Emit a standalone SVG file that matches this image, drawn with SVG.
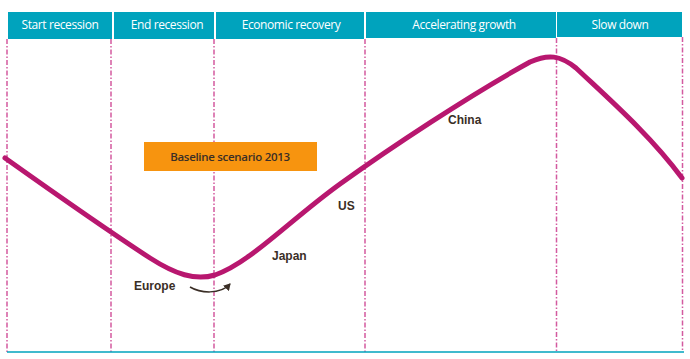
<svg xmlns="http://www.w3.org/2000/svg" width="690" height="359" viewBox="0 0 690 359">
<style>
.hdr{fill:#00a3bd}
.ht{font-family:"Open Sans","Noto Sans",sans-serif;font-size:12px;fill:#ffffff;text-anchor:middle;letter-spacing:-0.4px}
.vl{stroke:#d35a9f;stroke-width:1.5;stroke-dasharray:5,2,1.5,2;fill:none}
.lbl{font-family:"Liberation Sans",Arial,sans-serif;font-size:12px;font-weight:bold;fill:#3a2e26}
</style>
<defs>
<marker id="ah" markerWidth="8" markerHeight="8" refX="6" refY="4" orient="auto" markerUnits="userSpaceOnUse">
<path d="M0,0 L7,4 L0,8 Z" fill="#3a2e26"/>
</marker>
</defs>
<rect width="690" height="359" fill="#ffffff"/>
<g id="phases">
<g id="start-recession"><rect class="hdr" x="8" y="12" width="104" height="27"/><text class="ht" x="60" y="29">Start recession</text></g>
<g id="end-recession"><rect class="hdr" x="114" y="12" width="100" height="27"/><text class="ht" x="167" y="29">End recession</text></g>
<g id="economic-recovery"><rect class="hdr" x="216" y="12" width="148" height="27"/><text class="ht" x="291" y="29">Economic recovery</text></g>
<g id="accelerating-growth"><rect class="hdr" x="366" y="12" width="190" height="26"/><text class="ht" x="464" y="29">Accelerating growth</text></g>
<g id="slow-down"><rect class="hdr" x="557" y="12" width="125" height="25"/><text class="ht" x="620" y="29">Slow down</text></g>
</g>
<g id="dividers">
<line class="vl" x1="7" y1="39" x2="7" y2="352"/>
<line class="vl" x1="111" y1="39" x2="111" y2="352"/>
<line class="vl" x1="214" y1="39" x2="214" y2="352"/>
<line class="vl" x1="365" y1="39" x2="365" y2="352"/>
<line class="vl" x1="556.5" y1="38" x2="556.5" y2="352"/>
<line class="vl" x1="682.5" y1="37" x2="682.5" y2="352"/>
<line x1="7" y1="352" x2="684" y2="352" stroke="#00a3bd" stroke-width="1.5"/>
</g>
<g id="baseline-scenario">
<rect x="144" y="142" width="173" height="29" fill="#f7940f"/>
<text x="230" y="161" font-family="'Open Sans','Noto Sans',sans-serif" font-size="11.5" font-weight="600" fill="#3a2e26" text-anchor="middle" letter-spacing="-0.3">Baseline scenario 2013</text>
</g>
<g id="connectors">
<path d="M5,158 C50,190 110,232 150,258 C175,274 195,281 215,275 C250,263 290,220 340,184 C390,148 470,95 530,62 C548,54 560,55 576,68 C610,100 650,135 682,178" fill="none" stroke="#b8176f" stroke-width="5" stroke-linecap="round"/>
<path d="M190,287 C200,293 220,295 230,284" fill="none" stroke="#3a2e26" stroke-width="1.5" marker-end="url(#ah)"/>
</g>
<g id="labels">
<text class="lbl" x="134" y="290">Europe</text>
<text class="lbl" x="272" y="260">Japan</text>
<text class="lbl" x="338" y="210">US</text>
<text class="lbl" x="448" y="124">China</text>
</g>
</svg>
